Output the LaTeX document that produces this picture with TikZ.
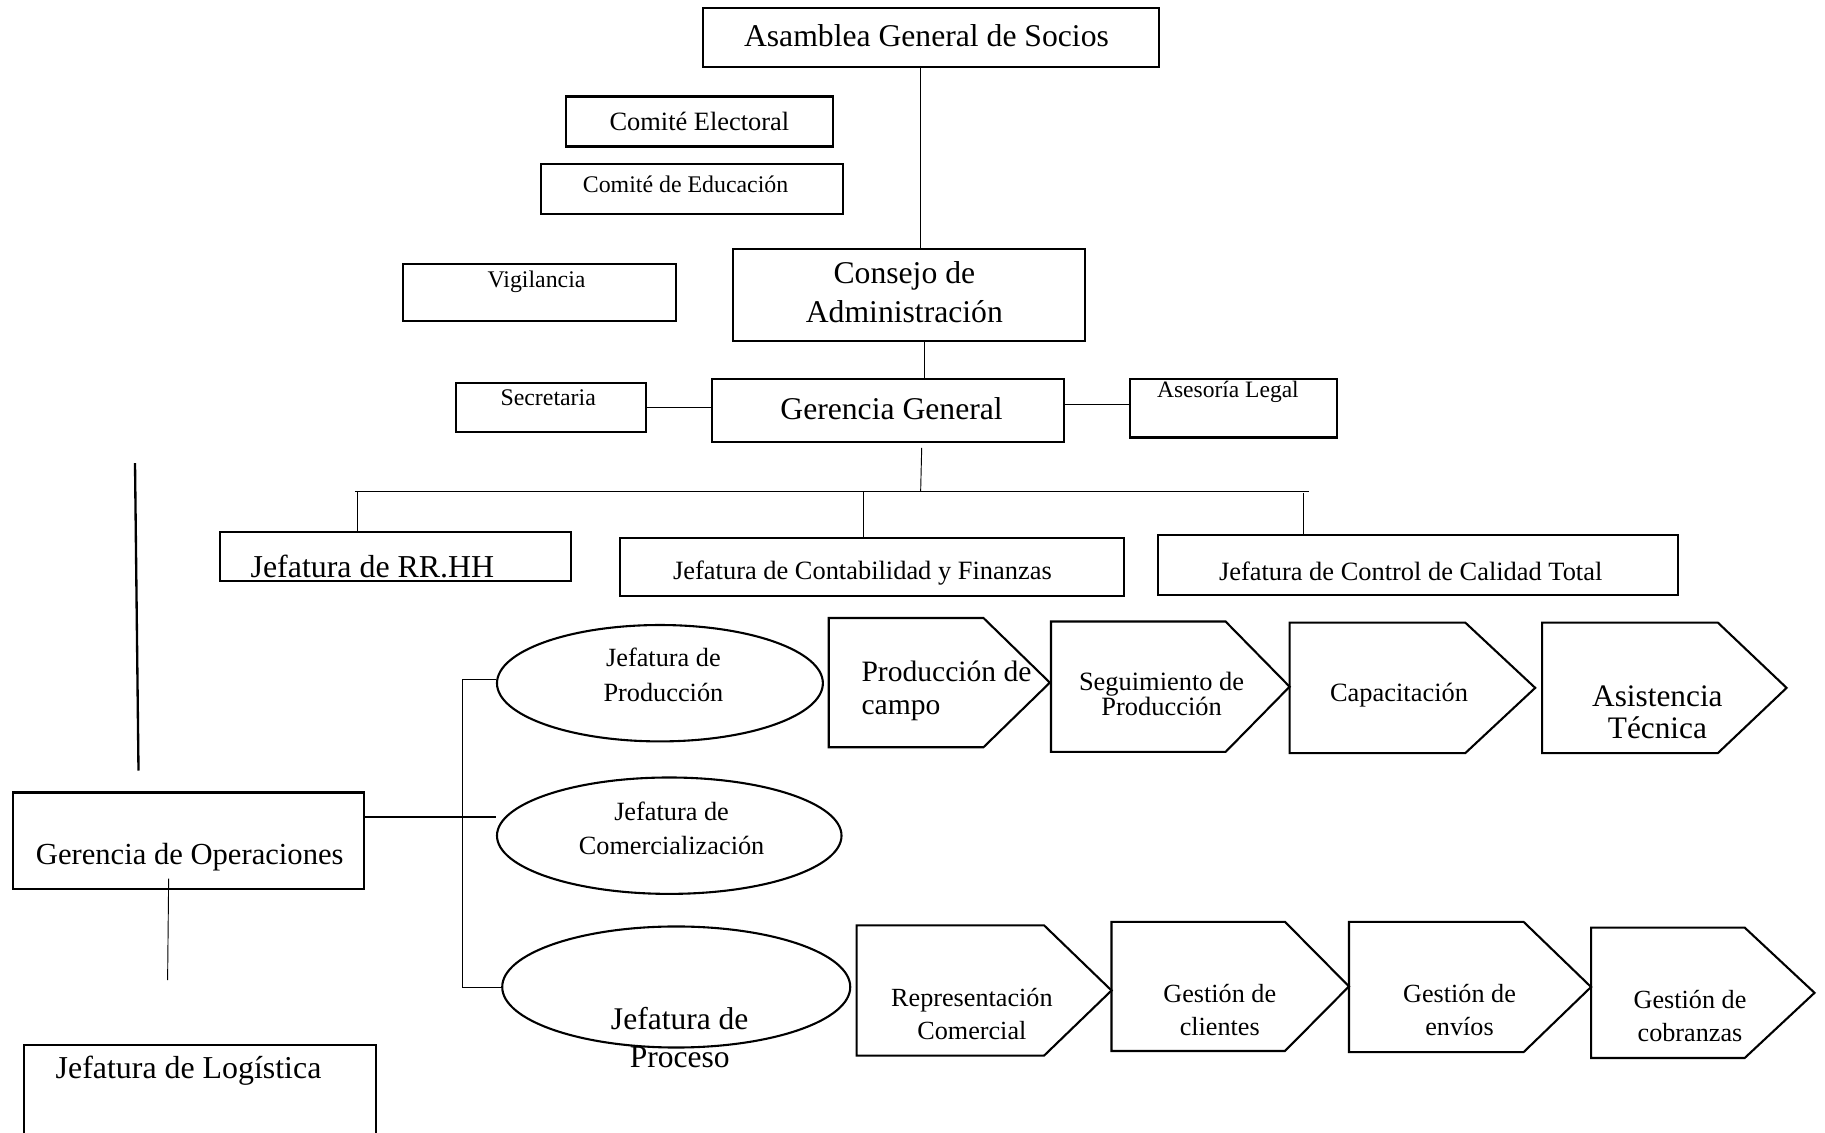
\documentclass[tikz,border=0pt]{standalone}
\usepackage{fontspec}
\setmainfont{Liberation Serif}
\usetikzlibrary{
    positioning,
    shapes.geometric
}

\tikzset{
    orgbox/.style={draw, line width=1.8pt, rectangle, inner sep=0pt, anchor=north west},
    oval/.style={draw, line width=1.8pt, ellipse, inner sep=0pt},
    chev/.style={draw, line width=1.8pt, line join=miter},
    link/.style={line width=0.8pt},
    bigtxt/.style={font=\fontsize{27.2}{34}\selectfont, align=center, inner sep=0pt},
    midtxt/.style={font=\fontsize{22.7}{29}\selectfont, align=center, inner sep=0pt},
    smalltxt/.style={font=\fontsize{20.5}{25}\selectfont, align=center, inner sep=0pt}
}

\begin{document}
\begin{tikzpicture}[x=1pt, y=-1pt]
        \useasboundingbox (0,0) rectangle (1568,973);

        % organos de direccion
        \node[orgbox, minimum width=392pt, minimum height=51pt] (asam) at (603,6) {};
        \node[bigtxt] (tasam) at (796,31) {Asamblea General de Socios};
        \node[orgbox, midtxt, minimum width=230pt, minimum height=43pt] (celec) at (485,82) {Comité Electoral};
        \node[orgbox, minimum width=259pt, minimum height=43pt] (cedu) at (464,140) {};
        \node[smalltxt] (tcedu) at (589,158) {Comité de Educación};
        \node[orgbox, minimum width=235pt, minimum height=49pt] (vig) at (345,226) {};
        \node[smalltxt] (tvig) at (461,242) {Vigilancia};
        \node[orgbox, minimum width=302pt, minimum height=79pt] (cons) at (629,213) {};
        \node[bigtxt] (tcons) at (777,251) {Consejo de\\Administración};
        \node[orgbox, minimum width=302pt, minimum height=54pt] (ger) at (611,325) {};
        \node[bigtxt] (tger) at (766,351) {Gerencia General};
        \node[orgbox, minimum width=163pt, minimum height=42pt] (sec) at (391,328) {};
        \node[smalltxt] (tsec) at (471,342) {Secretaria};
        \node[orgbox, minimum width=178pt, minimum height=50pt] (ase) at (970,325) {};
        \node[smalltxt, font=\fontsize{20.2}{25}\selectfont] (tase) at (1055,337) {Asesoría Legal};

        % jefaturas de apoyo
        \node[orgbox, minimum width=302pt, minimum height=42pt] (rrhh) at (188,456) {};
        \node[bigtxt, font=\fontsize{27.4}{34}\selectfont] (trrhh) at (320,487) {Jefatura de RR.HH};
        \node[orgbox, minimum width=433pt, minimum height=50pt] (jcont) at (532,461) {};
        \node[midtxt] (tjcont) at (741,492) {Jefatura de Contabilidad y Finanzas};
        \node[orgbox, minimum width=447pt, minimum height=51pt] (jcal) at (994,459) {};
        \node[midtxt] (tjcal) at (1212,491) {Jefatura de Control de Calidad Total};

        \draw[link] ([xshift=-9pt]asam.south) -- ([xshift=-9pt]asam.south |- cons.north);
        \draw[link] ([xshift=13pt]cons.south) -- ([xshift=13pt]cons.south |- ger.north);
        \draw[link] (sec.east) -- (sec.east -| ger.west);
        \draw[link] ([yshift=5pt]ger.east) -- ([yshift=5pt]ger.east -| ase.west);
        \coordinate (bus) at (791,422);
        \coordinate (busL) at (305,422);
        \coordinate (busR) at (1125,422);
        \draw[link] ([xshift=29pt,yshift=-4pt]ger.south) -- (bus);
        \draw[link] (busL) -- (busR);
        \draw[link] ([xshift=2pt]busL) -- ([xshift=2pt]busL |- rrhh.north);
        \draw[link] ([xshift=-7.5pt]jcont.north |- bus) -- ([xshift=-7.5pt]jcont.north);
        \draw[link] ([xshift=-5pt,yshift=-2pt]busR) -- ([xshift=-5pt]busR |- jcal.north);

        % operaciones
        \coordinate (vlT) at (116,398);
        \coordinate (vlB) at (119,662);
        \draw[line width=2pt] (vlT) -- (vlB);
        \node[orgbox, minimum width=302pt, minimum height=83pt] (ops) at (10,680) {};
        \node[bigtxt, font=\fontsize{26.3}{33}\selectfont] (tops) at (163,736) {Gerencia de Operaciones};
        \coordinate (opsD) at (144,842);
        \draw[link] ([xshift=-17pt,yshift=10pt]ops.south) -- (opsD);
        \node[orgbox, minimum width=302pt, minimum height=90pt] (jlog) at (20,897) {};
        \node[bigtxt, font=\fontsize{27.4}{34}\selectfont] (tjlog) at (162,920) {Jefatura de Logística};

        \node[oval, minimum width=280pt, minimum height=100pt] (jprod) at (567,587) {};
        \node[midtxt, font=\fontsize{22.6}{30}\selectfont] (tjprod) at (570,580) {Jefatura de\\Producción};
        \node[oval, minimum width=296pt, minimum height=100pt] (jcom) at (575,718) {};
        \node[midtxt, font=\fontsize{22.6}{29}\selectfont] (tjcom) at (577,711.5) {Jefatura de\\Comercialización};
        \node[oval, minimum width=299pt, minimum height=104pt] (jproc) at (581,848) {};
        \node[bigtxt, font=\fontsize{27.1}{33}\selectfont] (tjproc) at (584,891.5) {Jefatura de\\Proceso};

        \draw[link, line width=1.6pt] ([yshift=20.5pt]ops.east) -- ([yshift=20.5pt]ops.east -| jcom.west);
        \coordinate (brT) at (397,584);
        \coordinate (brB) at (397,848);
        \draw[link] (brT) -- (brB);
        \draw[link] (brT) -- (brT -| jprod.west);
        \draw[link] (brB) -- (brB -| jproc.west);

        % cadena de produccion
        \draw[chev] (712,531) -- (845,531) -- (902,586.5) -- (845,642) -- (712,642) -- cycle;
        \node[font=\fontsize{25.4}{29}\selectfont, align=left, anchor=west, inner sep=0pt] (tc1) at (740,593.5) {Producción de\\campo};
        \draw[chev] (903,534) -- (1053,534) -- (1108,590) -- (1053,646) -- (903,646) -- cycle;
        \node[midtxt, font=\fontsize{22.7}{18}\selectfont] (tc2) at (998,596) {Seguimiento de\\Producción};
        \draw[chev] (1108,535) -- (1259,535) -- (1319,591) -- (1259,647) -- (1108,647) -- cycle;
        \node[midtxt] (tc3) at (1202,597) {Capacitación};
        \draw[chev] (1325,535) -- (1476,535) -- (1535,591) -- (1476,647) -- (1325,647) -- cycle;
        \node[bigtxt, font=\fontsize{26.9}{28}\selectfont] (tc4) at (1424,612) {Asistencia\\Técnica};

        % cadena comercial
        \draw[chev] (736,795) -- (897,795) -- (955,851) -- (897,907) -- (736,907) -- cycle;
        \node[midtxt, font=\fontsize{22.5}{28}\selectfont] (td1) at (835,871) {Representación\\Comercial};
        \draw[chev] (955,792) -- (1104,792) -- (1159,847.5) -- (1104,903) -- (955,903) -- cycle;
        \node[midtxt, font=\fontsize{22.5}{28}\selectfont] (td2) at (1048,868) {Gestión de\\clientes};
        \draw[chev] (1159,792) -- (1309,792) -- (1367,848) -- (1309,904) -- (1159,904) -- cycle;
        \node[midtxt, font=\fontsize{22.5}{28}\selectfont] (td3) at (1254,868) {Gestión de\\envíos};
        \draw[chev] (1367,797) -- (1499,797) -- (1559,853) -- (1499,909) -- (1367,909) -- cycle;
        \node[midtxt, font=\fontsize{22.5}{28}\selectfont] (td4) at (1452,873) {Gestión de\\cobranzas};
    \end{tikzpicture}
\end{document}
